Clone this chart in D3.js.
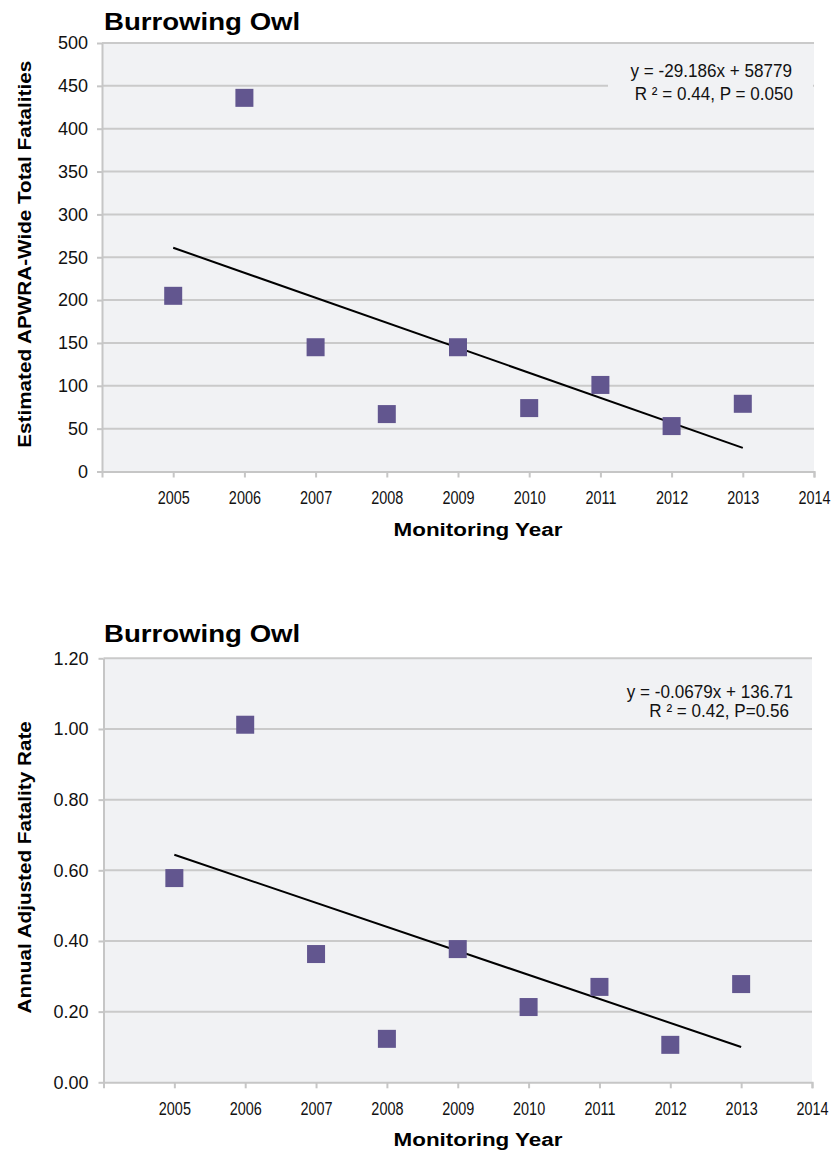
<!DOCTYPE html>
<meta charset="utf-8">
<html lang="en">
<style>
body { margin: 0; background: #fff; }
.plotbg { fill: #f1f2f4; }
.grid line { stroke: #cacaca; stroke-width: 2px; }
.axis path, .axis line { stroke: #c6c6c6; stroke-width: 2px; fill: none; }
.axis text { fill: #111; font-family: "Liberation Sans", Arial, sans-serif; font-size: 18px; }
.axis--x text { font-size: 19px; }
.title { font: bold 24px "Liberation Sans", Arial, sans-serif; fill: #000; }
.axislabel { font: bold 19px "Liberation Sans", Arial, sans-serif; fill: #000; }
.eq { font: 18px "Liberation Sans", Arial, sans-serif; fill: #111; }
.trend { fill: none; stroke: #000; stroke-width: 2px; }
.marker { fill: #62568f; }
</style>
<body>
<div id="chart"></div>
<script src="https://cdnjs.cloudflare.com/ajax/libs/d3/7.8.5/d3.min.js"></script>
<script>
// values
var years = [2005, 2006, 2007, 2008, 2009, 2010, 2011, 2012, 2013];
var totalFatalities = [205, 436, 145, 67, 145, 74, 101, 53, 79];
var fatalityRates = [0.578, 1.012, 0.363, 0.123, 0.377, 0.213, 0.270, 0.106, 0.278];

var yearTicks = [2005, 2006, 2007, 2008, 2009, 2010, 2011, 2012, 2013, 2014];
var totalTicks = [0, 50, 100, 150, 200, 250, 300, 350, 400, 450, 500];
var rateTicks = [0, 0.2, 0.4, 0.6, 0.8, 1.0, 1.2];

// trend line ends (linear fit drawn from first to last year)
var trendYears = [2005, 2013];
var totalTrend = [261.1, 27.6];
var rateTrend = [0.644, 0.100];

var totalEquation = ["y = -29.186x + 58779", "R \u00b2 = 0.44, P = 0.050"];
var rateEquation = ["y = -0.0679x + 136.71", "R \u00b2 = 0.42, P=0.56"];

var svg = d3.select("#chart").append("svg")
    .attr("width", 837)
    .attr("height", 1157);

function drawPanel(p) {
  var x = d3.scaleLinear().domain([2004, 2014]).range([p.left, p.right]);
  var y = d3.scaleLinear().domain([0, p.yMax]).range([p.bottom, p.top]);
  var g = svg.append("g");

  g.append("rect").attr("class", "plotbg")
    .attr("x", p.left).attr("y", p.top)
    .attr("width", p.right - p.left).attr("height", p.bottom - p.top);

  // horizontal gridlines
  g.append("g").attr("class", "grid")
    .selectAll("line").data(p.ticks.slice(1)).enter().append("line")
    .attr("x1", p.left).attr("x2", p.right)
    .attr("y1", function(d) { return y(d); })
    .attr("y2", function(d) { return y(d); });

  // box behind the equation hides the gridline under it
  g.append("rect").attr("class", "plotbg")
    .attr("x", 608).attr("y", p.boxTop)
    .attr("width", p.right - 609).attr("height", 48);

  g.append("g").attr("class", "axis axis--y")
    .attr("transform", "translate(" + p.left + ",0)")
    .call(d3.axisLeft(y).tickValues(p.ticks).tickSize(5).tickSizeOuter(0)
      .tickPadding(p.yPad).tickFormat(p.fmt));

  var xAxis = g.append("g").attr("class", "axis axis--x")
    .attr("transform", "translate(0," + p.bottom + ")")
    .call(d3.axisBottom(x).tickValues(yearTicks).tickSize(6).tickSizeOuter(6)
      .tickPadding(13).tickFormat(d3.format("d")));
  // year labels are condensed in the original
  xAxis.selectAll("text").attr("transform", "scale(0.76,1)");

  var line = d3.line()
    .x(function(d, i) { return x(trendYears[i]); })
    .y(function(d) { return y(d); });
  g.append("path").datum(p.trend).attr("class", "trend").attr("d", line);

  g.selectAll(".marker").data(p.values).enter().append("rect")
    .attr("class", "marker")
    .attr("x", function(d, i) { return x(years[i]) - 9; })
    .attr("y", function(d) { return y(d) - 9; })
    .attr("width", 18).attr("height", 18);

  g.append("text").attr("class", "title")
    .attr("transform", "translate(104," + p.titleY + ") scale(1.15,1)")
    .text("Burrowing Owl");

  g.append("text").attr("class", "axislabel")
    .attr("text-anchor", "middle")
    .attr("transform", "translate(478," + (p.bottom + 64) + ") scale(1.18,1)")
    .text("Monitoring Year");

  g.append("text").attr("class", "axislabel")
    .style("font-size", "18px")
    .attr("text-anchor", "middle")
    .attr("transform", "translate(31," + ((p.top + p.bottom) / 2 - 3) + ") rotate(-90) scale(1.15,1)")
    .text(p.yLabel);

  g.selectAll(".eq").data(p.eq).enter().append("text")
    .attr("class", "eq")
    .attr("text-anchor", "end")
    .attr("transform", function(d, i) {
      return "translate(" + p.eqX[i] + "," + p.eqY[i] + ") scale(0.95,1)";
    })
    .text(function(d) { return d; });
}

drawPanel({
  left: 102, right: 814, top: 43, bottom: 471.5,
  yMax: 500, ticks: totalTicks, fmt: d3.format("d"), yPad: 9,
  values: totalFatalities, trend: totalTrend,
  titleY: 30, boxTop: 60,
  yLabel: "Estimated APWRA-Wide Total Fatalities",
  eq: totalEquation, eqX: [792, 793], eqY: [77, 100]
});

drawPanel({
  left: 103.5, right: 812, top: 658.3, bottom: 1082.3,
  yMax: 1.2, ticks: rateTicks, fmt: d3.format(".2f"), yPad: 10,
  values: fatalityRates, trend: rateTrend,
  titleY: 642, boxTop: 678,
  yLabel: "Annual Adjusted Fatality Rate",
  eq: rateEquation, eqX: [793, 789], eqY: [698, 717]
});
</script>
</body>
</html>
